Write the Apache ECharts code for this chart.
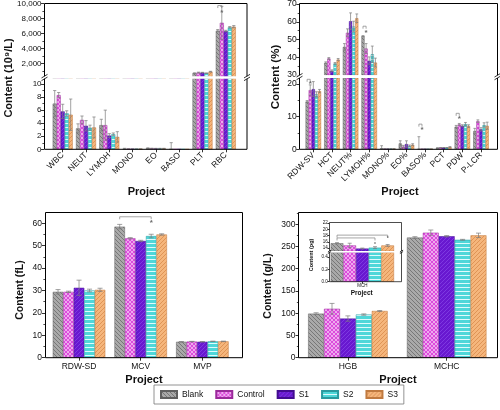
<!DOCTYPE html>
<html><head><meta charset="utf-8">
<script src="https://cdn.jsdelivr.net/npm/echarts@6/dist/echarts.min.js"></script>
<style>html,body{margin:0;padding:0;background:#fff}#c{width:500px;height:410px}</style>
</head><body><div id="c"></div>
<script>
const FONT = 'Arial, "Liberation Sans", Helvetica, sans-serif';
const seriesNames = ['Blank', 'Control', 'S1', 'S2', 'S3'];

// ---- Panel A (10^9/L), broken axis ----
const catsA = ['WBC', 'NEUT', 'LYMOH', 'MONO', 'EO', 'BASO', 'PLT', 'RBC'];
const blankA   = [7.0, 3.2, 3.7, 0.05, 0.15, 0.02, 680, 6350];
const controlA = [8.3, 4.5, 3.7, 0.04, 0.12, 0.01, 760, 7400];
const s1A      = [5.8, 3.6, 2.1, 0.03, 0.10, 0.01, 760, 6300];
const s2A      = [5.5, 3.3, 2.3, 0.03, 0.10, 0.01, 680, 6800];
const s3A      = [5.3, 3.35, 1.9, 0.03, 0.10, 0.01, 880, 6880];
const errBlankA   = [2.0, 0.7, 0.9, 0.10, 0.08, 1.0, 50, 150];
const errControlA = [0.4, 0.6, 2.3, 0.02, 0.05, 0, 60, 2200];
const errS1A      = [1.1, 0.8, 0.3, 0.02, 0.05, 0, 40, 100];
const errS2A      = [0.4, 0.4, 0.2, 0.02, 0.05, 0, 40, 100];
const errS3A      = [2.4, 1.6, 0.8, 0.02, 0.05, 0, 50, 150];
const ticksALow = [0, 2, 4, 6, 8, 10];
const ticksAHigh = [2000, 4000, 6000, 8000, 10000];
// [segment(0 low,1 high), category, fromBar, toBar, bracketY, starY]
const sigA = [[1, 7, 0, 1, 9700, 8800]];

// ---- Panel B (%), broken axis ----
const catsB = ['RDW-SV', 'HCT', 'NEUT%', 'LYMOH%', 'MONO%', 'EO%', 'BASO%', 'PCT', 'PDW', 'P-LCR'];
const blankB   = [14.6, 36.9, 45.8, 51.9, 0.3, 1.8, 0.15, 0.4, 6.9, 5.6];
const controlB = [18.1, 39.3, 53.8, 44.9, 0.1, 0.8, 0.05, 0.5, 7.6, 8.6];
const s1B      = [18.4, 32.4, 60.3, 38.0, 0.1, 1.6, 0.05, 0.5, 7.2, 6.1];
const s2B      = [16.8, 36.5, 57.3, 41.7, 0.1, 1.0, 0.05, 0.5, 7.7, 7.4];
const s3B      = [17.8, 38.7, 62.0, 37.0, 0.1, 1.4, 0.05, 0.7, 7.1, 7.2];
const errBlankB   = [0.3, 0.5, 1.9, 0.3, 0.8, 0.8, 3.7, 0.05, 0.4, 0.8];
const errControlB = [1.6, 0.5, 2.2, 2.8, 0.05, 0.4, 0.05, 0.05, 0.3, 0.4];
const errS1B      = [2.3, 0.5, 4.7, 2.2, 0.05, 1.0, 0.05, 0.05, 0.3, 0.5];
const errS2B      = [0.8, 0.5, 3.0, 4.6, 0.05, 0.3, 0.05, 0.05, 0.5, 0.7];
const errS3B      = [0.5, 0.6, 2.4, 2.5, 0.05, 0.3, 0.05, 0.1, 0.4, 1.1];
const ticksBLow = [0, 10, 20];
const ticksBHigh = [30, 40, 50, 60, 70];
const sigB = [[0, 0, 0, 1, 21.4, 20.0], [1, 3, 0, 1, 57.5, 54.0], [0, 6, 0, 1, 7.7, 5.9], [0, 8, 0, 1, 11.0, 9.3]];

// ---- Panel C (fL) ----
const catsC = ['RDW-SD', 'MCV', 'MVP'];
const blankC   = [29.4, 58.5, 7.1];
const controlC = [29.4, 53.3, 7.2];
const s1C      = [31.2, 52.1, 7.1];
const s2C      = [30.0, 54.3, 7.3];
const s3C      = [30.3, 55.0, 7.3];
const errBlankC   = [1.0, 1.0, 0.1];
const errControlC = [0.3, 0.3, 0.1];
const errS1C      = [3.4, 0.3, 0.1];
const errS2C      = [0.6, 0.8, 0.1];
const errS3C      = [0.7, 0.3, 0.1];
const ticksC = [0, 10, 20, 30, 40, 50, 60];
const sigC = [[0, 1, 0, 3, 62.9, 60.0]];

// ---- Panel D (g/L) ----
const catsD = ['HGB', 'MCHC'];
const blankD   = [99, 270];
const controlD = [110, 281];
const s1D      = [88, 273];
const s2D      = [97, 265];
const s3D      = [105, 275];
const errBlankD   = [2, 2];
const errControlD = [12, 6];
const errS1D      = [6, 1.5];
const errS2D      = [1.5, 1];
const errS3D      = [1, 5];
const ticksD = [0, 50, 100, 150, 200, 250, 300];

// ---- Inset (pg) ----
const catsE = ['MCH'];
const blankE   = [15.6];
const controlE = [14.9];
const s1E      = [13.9];
const s2E      = [14.2];
const s3E      = [14.9];
const errBlankE   = [0.2];
const errControlE = [0.7];
const errS1E      = [0.15];
const errS2E      = [0.3];
const errS3E      = [0.3];
const ticksELow = [0, 0.2, 0.4];
const ticksEHigh = [14, 16, 18, 20, 22];
const sigE = [[1, 0, 0, 3, 17.3, 15.1], [1, 0, 0, 4, 18.2, 17.2]];

// ---- patterns ----
function pattern(bg, fg, kind, lw, size) {
  const s = size || 4;
  const c = document.createElement('canvas'); c.width = s; c.height = s;
  const g = c.getContext('2d');
  g.fillStyle = bg; g.fillRect(0, 0, s, s);
  g.strokeStyle = fg; g.lineWidth = lw;
  g.beginPath();
  const fwd = () => { for (const o of [-s, 0, s]) { g.moveTo(o, s); g.lineTo(o + s, 0); } };
  const back = () => { for (const o of [-s, 0, s]) { g.moveTo(o, 0); g.lineTo(o + s, s); } };
  if (kind === 'fwd') fwd();
  if (kind === 'back') back();
  if (kind === 'cross') { fwd(); back(); }
  if (kind === 'horiz') { g.moveTo(0, s - 0.5); g.lineTo(s, s - 0.5); }
  g.stroke();
  return { image: c, repeat: 'repeat' };
}
const fills = [
  pattern('#a9a9a9', '#727272', 'back', 0.9, 4),
  pattern('#dc4cdc', 'rgba(255,255,255,0.75)', 'cross', 0.7, 4),
  pattern('#6818d0', '#8442e4', 'fwd', 0.8, 4),
  pattern('#4fd7d9', 'rgba(240,255,255,0.9)', 'horiz', 1, 4),
  pattern('#f5b67c', '#d98b4c', 'fwd', 0.8, 4)
];
const borders = ['#606060', '#9a2a9a', '#420c90', '#2a9a9e', '#c07a40'];

const option = {
  animation: false,
  backgroundColor: '#fff',
  grid: [], xAxis: [], yAxis: [], series: [], graphic: [],
  legend: {
    data: seriesNames, left: 154, top: 385, orient: 'horizontal', icon: 'rect',
    itemWidth: 16, itemHeight: 7, itemGap: 12, padding: [5, 6],
    borderColor: '#777', borderWidth: 0.8,
    textStyle: { fontSize: 8.5, color: '#111', fontFamily: FONT }
  }
};

function errRenderer(k, bw, lo, hi, cap) {
  return function (params, api) {
    const i = api.value(0), v = api.value(1), e = api.value(2);
    if (!(v > lo && v <= hi) || !(e > 0)) return;
    const off = (k - 2) * bw;
    const c = api.coord([i, v]), t = api.coord([i, v + e]), b = api.coord([i, v - e]);
    const x = c[0] + off;
    const style = { stroke: '#7a7a7a', lineWidth: 0.7 };
    return { type: 'group', children: [
      { type: 'line', shape: { x1: x, y1: t[1], x2: x, y2: b[1] }, style },
      { type: 'line', shape: { x1: x - cap, y1: t[1], x2: x + cap, y2: t[1] }, style },
      { type: 'line', shape: { x1: x - cap, y1: b[1], x2: x + cap, y2: b[1] }, style }
    ]};
  };
}
function sigRenderer(bw, starSize) {
  return function (params, api) {
    const i = api.value(1), a = api.value(2), b = api.value(3), yl = api.value(4), ys = api.value(5);
    const pl = api.coord([i, yl]), ps = api.coord([i, ys]);
    const xa = pl[0] + (a - 2) * bw, xb = pl[0] + (b - 2) * bw;
    return { type: 'group', children: [
      { type: 'polyline', shape: { points: [[xa, pl[1] + 2.5], [xa, pl[1]], [xb, pl[1]], [xb, pl[1] + 2.5]] },
        style: { stroke: '#808080', fill: null, lineWidth: 0.7 } },
      { type: 'text', x: xb, y: ps[1],
        style: { text: '*', fill: '#6a6a6a', font: 'bold ' + starSize + 'px ' + FONT,
                 align: 'center', verticalAlign: 'middle', textAlign: 'center', textVerticalAlign: 'middle' } }
    ]};
  };
}

function addPanel(p) {
  p.segs.forEach((seg, si) => {
    const idx = option.grid.length;
    option.grid.push({ left: p.left, width: p.width, top: seg.top, height: seg.height,
                       containLabel: false, outerBoundsMode: 'none' });
    option.xAxis.push({
      type: 'category', gridIndex: idx, data: p.cats, boundaryGap: true, show: !!seg.showX,
      axisLine: { show: false },
      axisTick: { show: true, alignWithLabel: true, length: p.tickLen, lineStyle: { color: '#000', width: 0.8 } },
      axisLabel: { show: true, interval: 0, rotate: p.rotate || 0, margin: p.xMargin, fontSize: p.xFont,
                   color: '#111', fontFamily: FONT }
    });
    const y = {
      type: 'value', gridIndex: idx, min: seg.min, max: seg.max, offset: p.offset,
      axisLine: { show: false }, splitLine: { show: false },
      axisTick: { show: true, length: p.tickLen, customValues: seg.labels, lineStyle: { color: '#000', width: 0.8 } },
      minorTick: { show: !!seg.interval, splitNumber: 2, length: p.tickLen * 0.55, lineStyle: { color: '#000', width: 0.7 } },
      axisLabel: { fontSize: p.yFont, color: '#111', margin: p.yMargin, customValues: seg.labels,
                   fontFamily: FONT, formatter: seg.fmt }
    };
    if (seg.interval) y.interval = seg.interval;
    option.yAxis.push(y);
    for (let k = 0; k < 5; k++) {
      option.series.push({
        type: 'bar', name: seriesNames[k], xAxisIndex: idx, yAxisIndex: idx,
        data: p.data[k], barWidth: p.barWidth, barGap: '0%', clip: true, silent: true,
        itemStyle: { color: fills[k], borderColor: borders[k], borderWidth: 0.5 }, z: 2
      });
    }
    for (let k = 0; k < 5; k++) {
      option.series.push({
        type: 'custom', xAxisIndex: idx, yAxisIndex: idx, clip: true, silent: true, z: 4,
        encode: { x: 0, y: 1 },
        data: p.cats.map((c, i) => [i, p.data[k][i], p.errs[k][i]]),
        renderItem: errRenderer(k, p.barWidth, seg.lo, seg.hi, p.cap)
      });
    }
    const sigs = (p.sigs || []).filter(s => s[0] === si);
    if (sigs.length) {
      option.series.push({
        type: 'custom', xAxisIndex: idx, yAxisIndex: idx, clip: false, silent: true, z: 5,
        encode: { x: 1, y: 4 }, data: sigs, renderItem: sigRenderer(p.barWidth, p.star)
      });
    }
  });
}

const comma = v => Number(v).toLocaleString('en-US');
const oneDec = v => Number(v).toFixed(1);

addPanel({ cats: catsA, data: [blankA, controlA, s1A, s2A, s3A],
  errs: [errBlankA, errControlA, errS1A, errS2A, errS3A], sigs: sigA,
  left: 51.05, width: 186.4, offset: 7, barWidth: 4, cap: 1.6, rotate: 45,
  xFont: 8.5, yFont: 8, xMargin: 4.5, yMargin: 2.5, tickLen: 3, star: 8,
  segs: [
    { top: 77.5, height: 71.8, min: 0, max: 11, interval: 2, labels: ticksALow, lo: -Infinity, hi: 11, showX: true },
    { top: 3.3, height: 75, min: 0, max: 10000, interval: 2000, labels: ticksAHigh, lo: 11, hi: Infinity, fmt: comma }
  ]});
addPanel({ cats: catsB, data: [blankB, controlB, s1B, s2B, s3B],
  errs: [errBlankB, errControlB, errS1B, errS2B, errS3B], sigs: sigB,
  left: 304, width: 186.3, offset: 4.7, barWidth: 3.1, cap: 1.4, rotate: 45,
  xFont: 8.5, yFont: 8.5, xMargin: 4.5, yMargin: 2.5, tickLen: 3, star: 8,
  segs: [
    { top: 78, height: 71.3, min: 0, max: 21.8, interval: 10, labels: ticksBLow, lo: -Infinity, hi: 21.8, showX: true },
    { top: 3.3, height: 71.7, min: 30, max: 70.4, interval: 10, labels: ticksBHigh, lo: 21.8, hi: Infinity }
  ]});
addPanel({ cats: catsC, data: [blankC, controlC, s1C, s2C, s3C],
  errs: [errBlankC, errControlC, errS1C, errS2C, errS3C], sigs: sigC,
  left: 48.2, width: 185, offset: 3.2, barWidth: 10.5, cap: 2.5, rotate: 0,
  xFont: 8.5, yFont: 8.5, xMargin: 4, yMargin: 3, tickLen: 3, star: 8,
  segs: [ { top: 212.3, height: 145.4, min: 0, max: 64.9, interval: 10, labels: ticksC, lo: -Infinity, hi: Infinity, showX: true } ]});
addPanel({ cats: catsD, data: [blankD, controlD, s1D, s2D, s3D],
  errs: [errBlankD, errControlD, errS1D, errS2D, errS3D], sigs: [],
  left: 298.5, width: 197.6, offset: 0, barWidth: 15.9, cap: 2.5, rotate: 0,
  xFont: 8.5, yFont: 8.5, xMargin: 4, yMargin: 3, tickLen: 3, star: 8,
  segs: [ { top: 212.3, height: 145.4, min: 0, max: 326.8, interval: 50, labels: ticksD, lo: -Infinity, hi: Infinity, showX: true } ]});
addPanel({ cats: catsE, data: [blankE, controlE, s1E, s2E, s3E],
  errs: [errBlankE, errControlE, errS1E, errS2E, errS3E], sigs: sigE,
  left: 330.7, width: 63.3, offset: 1.4, barWidth: 12.66, cap: 2, rotate: 0,
  xFont: 4.5, yFont: 4.5, xMargin: 2, yMargin: 1.5, tickLen: 1.8, star: 5,
  segs: [
    { top: 252.5, height: 29.2, min: 0, max: 0.47, labels: ticksELow, lo: -Infinity, hi: 0.47, showX: true, fmt: oneDec },
    { top: 222.3, height: 28.75, min: 13.1, max: 22.3, labels: ticksEHigh, lo: 0.47, hi: Infinity }
  ]});

// ---- decorations: frames, breaks, titles ----
const G = option.graphic;
function box(x, y, w, h, lw) {
  G.push({ type: 'rect', z: 50, silent: true, shape: { x, y, width: w, height: h },
           style: { fill: 'rgba(0,0,0,0)', stroke: '#000', lineWidth: lw || 1 } });
}
function brk(x1, x2, y, h, s) {
  G.push({ type: 'rect', z: 60, silent: true, shape: { x: x1 - 4, y: y - h / 2, width: x2 - x1 + 8, height: h },
           style: { fill: '#fff' } });
  [x1, x2].forEach(x => {
    [-s * 0.45, s * 0.45].forEach(d => {
      G.push({ type: 'line', z: 61, silent: true,
               shape: { x1: x - s, y1: y + d + s * 0.6, x2: x + s, y2: y + d - s * 0.6 },
               style: { stroke: '#000', lineWidth: 0.8 } });
    });
  });
}
function txt(text, x, y, font, rot) {
  G.push({ type: 'text', z: 70, silent: true, x, y, rotation: rot || 0,
           style: { text, font, fill: '#111', align: 'center', verticalAlign: 'middle',
                    textAlign: 'center', textVerticalAlign: 'middle' } });
}
box(44.5, 3.5, 202.5, 145.8);
box(299.5, 3.5, 198, 145.8);
box(45.5, 212.5, 197, 145.2);
box(298.5, 212.5, 199, 145.2);
box(329.5, 222.5, 72, 59.2, 0.7);
brk(44.5, 247, 77.5, 2.6, 3);
brk(299.5, 497.5, 76.6, 2.6, 3);
brk(329.5, 401.5, 251.8, 1.4, 1.6);

txt('Content (10\u2079/L)', 8.5, 78, 'bold 11px ' + FONT, Math.PI / 2);
txt('Content (%)', 276, 77, 'bold 11.5px ' + FONT, Math.PI / 2);
txt('Content (fL)', 20, 290, 'bold 10.5px ' + FONT, Math.PI / 2);
txt('Content (g/L)', 268.5, 286, 'bold 10.5px ' + FONT, Math.PI / 2);
txt('Content (pg)', 311, 255, 'bold 5.5px ' + FONT, Math.PI / 2);
txt('Project', 146.3, 191.7, 'bold 11px ' + FONT);
txt('Project', 400, 191.7, 'bold 11px ' + FONT);
txt('Project', 144, 380, 'bold 11px ' + FONT);
txt('Project', 398, 380, 'bold 11px ' + FONT);
txt('Project', 361.7, 293.3, 'bold 6.5px ' + FONT);

const chart = echarts.init(document.getElementById('c'), null, { renderer: 'canvas', width: 500, height: 410 });
chart.setOption(option);
</script></body></html>
